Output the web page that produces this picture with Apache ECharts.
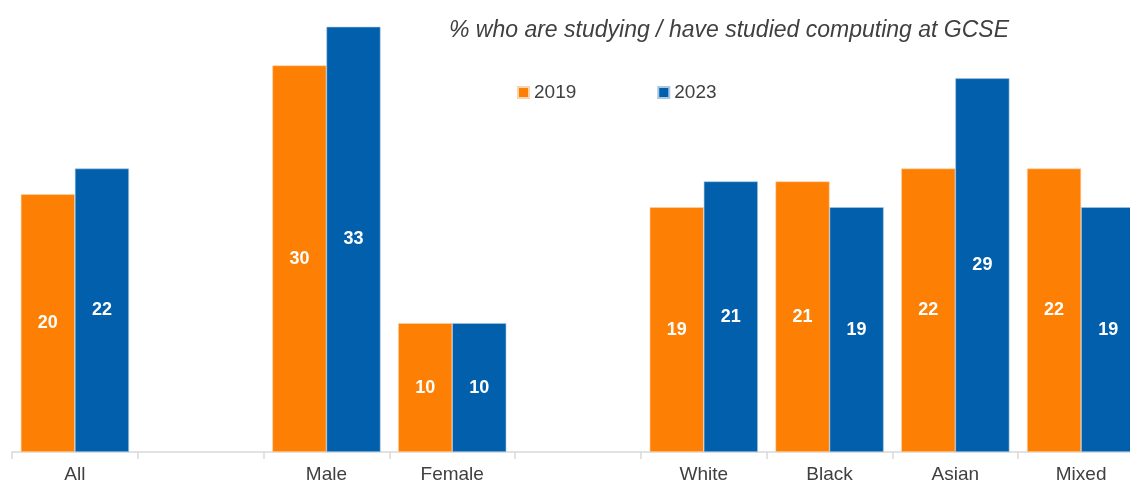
<!DOCTYPE html>
<html>
<head>
<meta charset="utf-8">
<script src="https://cdn.jsdelivr.net/npm/echarts@6/dist/echarts.min.js"></script>
<style>
  html, body { margin: 0; padding: 0; background: #fff; }
  #chart { width: 1130px; height: 483px; }
</style>
</head>
<body>
<div id="chart"></div>
<script>
var categories = ['All', '', 'Male', 'Female', '', 'White', 'Black', 'Asian', 'Mixed'];
var values2019 = [20, '-', 30, 10, '-', 19, 21, 22, 22];
var values2023 = [22, '-', 33, 10, '-', 21, 19, 29, 19];

var myChart = echarts.init(document.getElementById('chart'));

var barLabel = {
  show: true,
  position: 'inside',
  color: '#fff',
  fontWeight: 'bold',
  fontSize: 18,
  fontFamily: 'Liberation Sans, Arial, sans-serif'
};

var option = {
  animation: false,
  title: {
    text: '% who are studying / have studied computing at GCSE',
    left: 444,
    top: 14,
    textStyle: {
      fontSize: 23,
      fontStyle: 'italic',
      fontWeight: 'normal',
      color: '#404040',
      fontFamily: 'Liberation Sans, Arial, sans-serif'
    }
  },
  legend: {
    left: 512,
    top: 78,
    itemWidth: 11,
    itemHeight: 11,
    itemGap: 81,
    icon: 'rect',
    textStyle: {
      fontSize: 19,
      color: '#404040',
      fontFamily: 'Liberation Sans, Arial, sans-serif'
    },
    data: ['2019', '2023']
  },
  // the reference crops the last category at the right edge
  grid: { left: 12, width: 1132, top: 1, bottom: 31, outerBoundsMode: 'none' },
  xAxis: {
    type: 'category',
    data: categories,
    axisLine: { lineStyle: { color: '#d9d9d9', width: 1.5 } },
    axisTick: { show: true, length: 7, lineStyle: { color: '#d9d9d9', width: 1.5 } },
    axisLabel: {
      fontSize: 19,
      color: '#404040',
      margin: 13,
      fontFamily: 'Liberation Sans, Arial, sans-serif'
    }
  },
  yAxis: {
    type: 'value',
    min: 0,
    max: 35,
    show: false,
    splitLine: { show: false }
  },
  series: [
    {
      name: '2019',
      type: 'bar',
      data: values2019,
      barGap: '0%',
      barCategoryGap: '14%',
      itemStyle: { color: '#fd7f03', borderColor: '#fbd3ad', borderWidth: 0.6 },
      label: barLabel
    },
    {
      name: '2023',
      type: 'bar',
      data: values2023,
      barGap: '0%',
      barCategoryGap: '14%',
      itemStyle: { color: '#015fab', borderColor: '#a9c7e2', borderWidth: 0.6 },
      label: barLabel
    }
  ]
};

myChart.setOption(option);
</script>
</body>
</html>
